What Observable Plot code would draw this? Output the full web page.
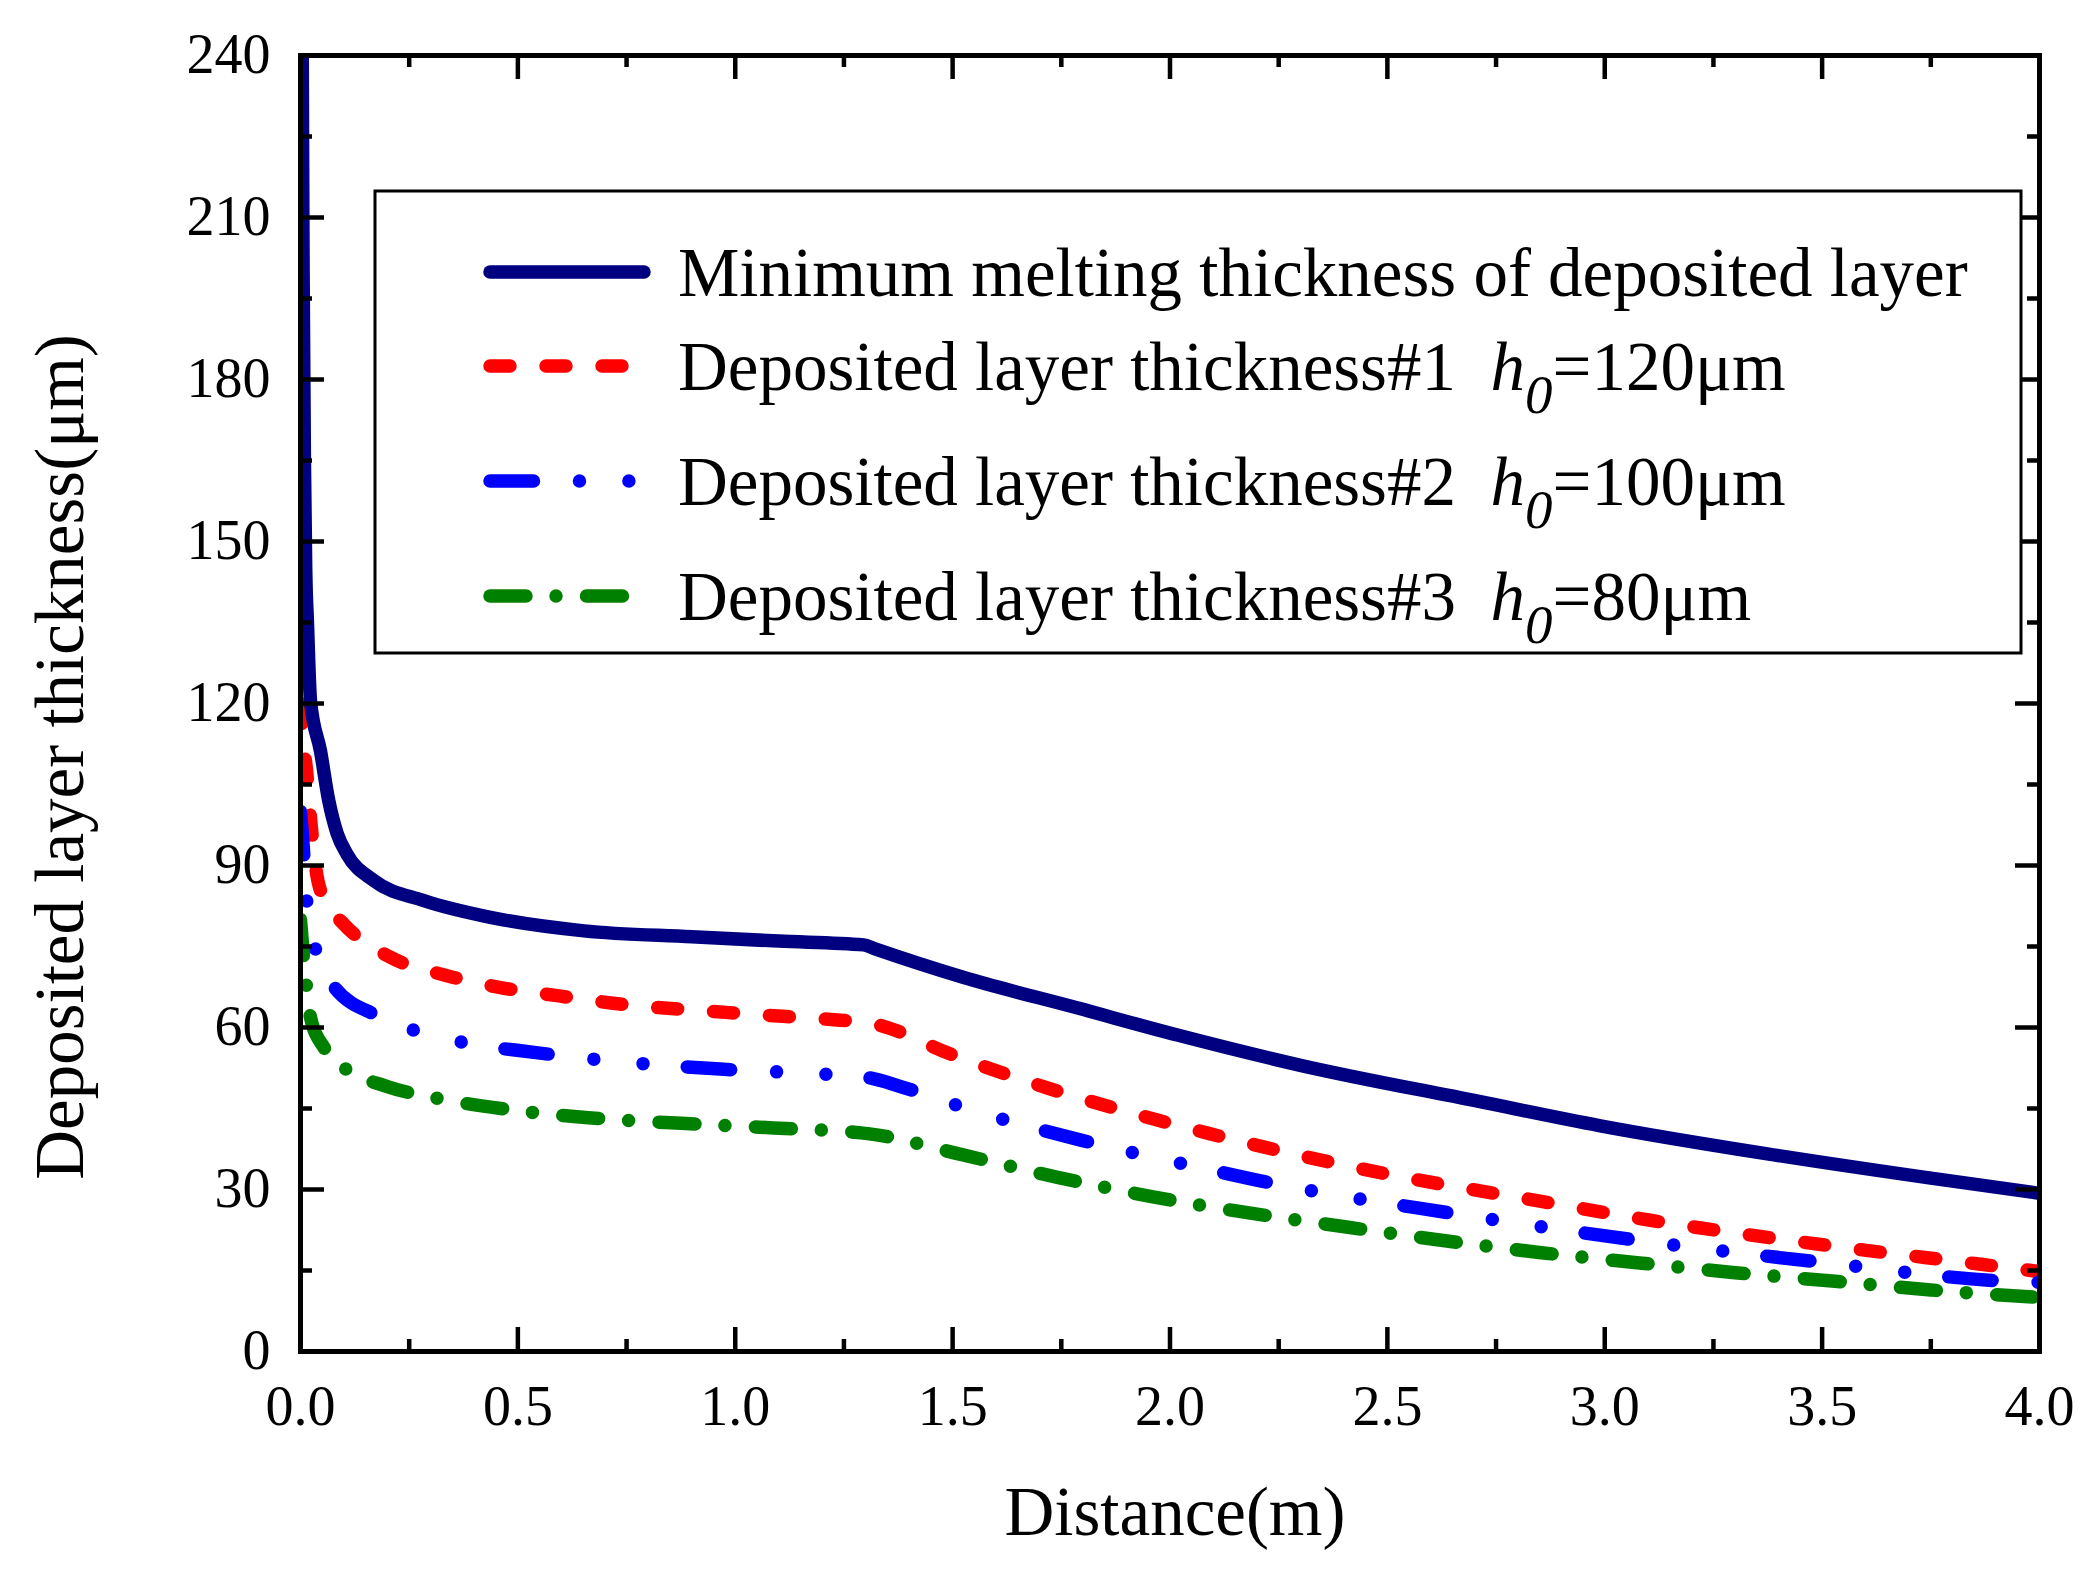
<!DOCTYPE html>
<html>
<head>
<meta charset="utf-8">
<script src="https://cdn.jsdelivr.net/npm/d3@7"></script>
<script src="https://cdn.jsdelivr.net/npm/@observablehq/plot@0.6"></script>
<style>
  html, body { margin: 0; padding: 0; background: #fff; }
  #chart svg { display: block; }
</style>
</head>
<body>
<div id="chart"></div>
<script>
// Deposited layer thickness vs distance

// axis ticks
const xMajor = [0, 0.5, 1, 1.5, 2, 2.5, 3, 3.5, 4];
const xMinor = [0.25, 0.75, 1.25, 1.75, 2.25, 2.75, 3.25, 3.75];
const yMajor = [0, 30, 60, 90, 120, 150, 180, 210, 240];
const yMinor = [15, 45, 75, 105, 135, 165, 195, 225];

// minimum melting thickness of deposited layer
const minMeltX = [0.004, 0.006, 0.009, 0.012, 0.016, 0.023, 0.046, 0.065, 0.084, 0.107, 0.169, 0.284, 0.437, 0.652, 0.9, 1.1, 1.295, 1.32, 1.524, 1.788, 2.017, 2.3, 2.705, 2.99, 3.374, 3.75, 4.0];
const minMeltY = [240, 200, 165, 145, 135, 120.5, 111.2, 102, 96, 92.1, 87.2, 83.5, 80.4, 77.9, 76.8, 76.0, 75.3, 74.6, 69.3, 63.6, 58.6, 53.0, 46.4, 41.8, 36.6, 32.1, 29.3];

// deposited layer thickness #1 (h0 = 120 µm)
const layer1X = [0, 0.005, 0.014, 0.025, 0.04, 0.065, 0.1, 0.207, 0.337, 0.46, 0.59, 0.719, 0.978, 1.234, 1.3, 1.357, 1.476, 1.718, 1.969, 2.093, 2.472, 2.854, 3.105, 3.488, 3.87, 4.0];
const layer1Y = [120, 114, 107.5, 97, 87.2, 82.5, 79.1, 73.0, 69.6, 67.4, 65.9, 64.5, 62.8, 61.4, 61.0, 59.8, 55.7, 48.8, 42.9, 40.3, 33.3, 27.8, 24.3, 19.9, 16.1, 14.8];

// deposited layer thickness #2 (h0 = 100 µm)
const layer2X = [0, 0.005, 0.01, 0.015, 0.037, 0.073, 0.176, 0.264, 0.376, 0.537, 0.692, 0.965, 1.234, 1.3, 1.383, 1.537, 1.797, 1.955, 2.067, 2.22, 2.648, 3.075, 3.5, 3.93, 4.0];
const layer2Y = [100, 95, 89, 82.9, 73.8, 68.0, 62.2, 59.4, 57.2, 55.4, 54.0, 52.3, 51.2, 50.8, 49.0, 44.9, 39.1, 36.1, 34.1, 31.4, 25.6, 20.6, 16.5, 13.0, 12.8];

// deposited layer thickness #3 (h0 = 80 µm)
const layer3X = [0, 0.004, 0.008, 0.014, 0.023, 0.054, 0.098, 0.198, 0.307, 0.5, 0.662, 0.864, 1.089, 1.309, 1.524, 1.744, 1.964, 2.41, 2.854, 3.08, 3.30, 3.53, 3.75, 4.0];
const layer3Y = [80, 76, 72, 67.4, 61.9, 56.3, 52.7, 49.1, 47.0, 44.6, 43.3, 42.3, 41.4, 40.3, 36.4, 32.2, 28.6, 23.0, 18.3, 16.4, 14.6, 13.0, 11.4, 10.0];

const seriesNames = [
  "Minimum melting thickness of deposited layer",
  "Deposited layer thickness#1",
  "Deposited layer thickness#2",
  "Deposited layer thickness#3"
];
const h0Labels = [null, "120μm", "100μm", "80μm"];

// --- styling (kept apart from the data) ---
const W = 2097, H = 1578;
const M = {left: 300, right: 58, top: 55, bottom: 227};
const frameW = W - M.left - M.right;
const frameH = H - M.top - M.bottom;
const LW = 13.5;
const seriesStyle = [
  {stroke: "#000080", dash: null},
  {stroke: "#ff0000", dash: "20,36"},
  {stroke: "#0000ff", dash: "43.5,46,0,49.4,0,44.3"},
  {stroke: "#008000", dash: "36,30,0,30.5"}
];
const serif = "'Liberation Serif', 'Times New Roman', serif";

const seriesXY = [[minMeltX, minMeltY], [layer1X, layer1Y], [layer2X, layer2Y], [layer3X, layer3Y]];
const rows = seriesXY.flatMap(([xs, ys], i) => xs.map((x, j) => ({series: seriesNames[i], x, y: ys[j]})));

function lineFor(i) {
  const s = seriesStyle[i];
  return Plot.line(rows.filter(d => d.series === seriesNames[i]), {
    x: "x", y: "y",
    stroke: s.stroke,
    strokeWidth: LW,
    strokeDasharray: s.dash,
    strokeLinecap: "round",
    strokeLinejoin: "round",
    curve: "monotone-x",
    clip: true
  });
}

const tk = {stroke: "#000", strokeWidth: 4.5};
const MAJ = 24, MIN = 12;

const chart = Plot.plot({
  width: W,
  height: H,
  marginLeft: M.left,
  marginRight: M.right,
  marginTop: M.top,
  marginBottom: M.bottom,
  x: {domain: [0, 4], axis: null},
  y: {domain: [0, 240], axis: null},
  style: {fontFamily: serif, fontSize: "56px", background: "white", color: "#000"},
  marks: [
    // draw order: dashed series first, solid curve on top
    lineFor(1), lineFor(2), lineFor(3), lineFor(0),
    // inward ticks on all four sides
    Plot.tickX(xMajor, {x: d => d, insetTop: frameH - MAJ, ...tk}),
    Plot.tickX(xMinor, {x: d => d, insetTop: frameH - MIN, ...tk}),
    Plot.tickX(xMajor, {x: d => d, insetBottom: frameH - MAJ, ...tk}),
    Plot.tickX(xMinor, {x: d => d, insetBottom: frameH - MIN, ...tk}),
    Plot.tickY(yMajor, {y: d => d, insetRight: frameW - MAJ, ...tk}),
    Plot.tickY(yMinor, {y: d => d, insetRight: frameW - MIN, ...tk}),
    Plot.tickY(yMajor, {y: d => d, insetLeft: frameW - MAJ, ...tk}),
    Plot.tickY(yMinor, {y: d => d, insetLeft: frameW - MIN, ...tk}),
    Plot.frame({stroke: "#000", strokeWidth: 5}),
    Plot.axisX({ticks: xMajor, tickSize: 0, tickPadding: 34, tickFormat: d => d.toFixed(1), fontSize: 56, label: null}),
    Plot.axisY({ticks: yMajor, tickSize: 0, tickPadding: 30, tickFormat: d => String(d), fontSize: 56, label: null})
  ]
});

document.getElementById("chart").appendChild(chart);

// --- titles and legend, added on top of the Plot svg ---
const svg = d3.select(chart);

svg.append("text")
  .attr("x", 1175).attr("y", 1535)
  .attr("text-anchor", "middle")
  .attr("font-family", serif).attr("font-size", 69).attr("fill", "#000")
  .text("Distance(m)");

svg.append("text")
  .attr("transform", "translate(83,757) rotate(-90)")
  .attr("text-anchor", "middle")
  .attr("font-family", serif).attr("font-size", 69).attr("fill", "#000")
  .text("Deposited layer thickness(μm)");

const lg = svg.append("g")
  .attr("font-family", serif)
  .attr("fill", "#000")
  .attr("text-anchor", "start");
lg.append("rect")
  .attr("x", 375).attr("y", 191).attr("width", 1646).attr("height", 462)
  .attr("fill", "white").attr("stroke", "#000").attr("stroke-width", 3);

const rowY = [272, 366, 481, 596];
seriesNames.forEach((name, i) => {
  const s = seriesStyle[i];
  const y = rowY[i];
  lg.append("path")
    .attr("d", `M490,${y}H644`)
    .attr("fill", "none")
    .attr("stroke", s.stroke)
    .attr("stroke-width", LW)
    .attr("stroke-linecap", "round")
    .attr("stroke-dasharray", s.dash);

  const t = lg.append("text")
    .attr("x", 678).attr("y", y + 23.5)
    .attr("text-anchor", "start")
    .attr("font-size", 69)
    .style("white-space", "pre");
  if (h0Labels[i] == null) {
    t.text(name);
  } else {
    t.append("tspan").text(name + "  ");
    t.append("tspan").attr("font-style", "italic").text("h");
    t.append("tspan").attr("font-style", "italic").attr("font-size", 55).attr("dy", 23).text("0");
    t.append("tspan").attr("dy", -23).text("=" + h0Labels[i]);
  }
});
</script>
</body>
</html>
